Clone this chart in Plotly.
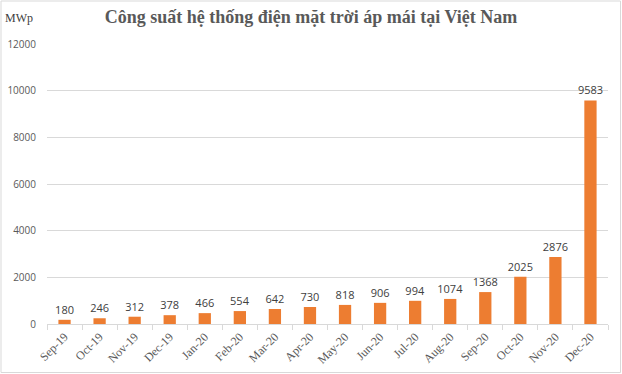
import plotly.graph_objects as go

months = ["Sep-19", "Oct-19", "Nov-19", "Dec-19", "Jan-20", "Feb-20", "Mar-20", "Apr-20",
          "May-20", "Jun-20", "Jul-20", "Aug-20", "Sep-20", "Oct-20", "Nov-20", "Dec-20"]
capacity = [180, 246, 312, 378, 466, 554, 642, 730, 818, 906, 994, 1074, 1368, 2025, 2876, 9583]
y_ticks = [0, 2000, 4000, 6000, 8000, 10000, 12000]

W, H = 622, 374
ml, mr, mt, mb = 47, 14, 44, 50
pw = W - ml - mr
ph = H - mt - mb

fig = go.Figure(go.Bar(
    x=months, y=capacity,
    marker=dict(color="#ED7D31", line=dict(width=0)),
    text=[str(v) for v in capacity], textposition="outside",
    constraintext="none",
    textfont=dict(family="Open Sans, Liberation Sans, sans-serif", size=11, color="#404040"),
    cliponaxis=False,
))

fig.update_layout(
    width=W, height=H,
    margin=dict(l=ml, r=mr, t=mt, b=mb, autoexpand=False),
    paper_bgcolor="white", plot_bgcolor="white",
    bargap=0.65,
    showlegend=False,
    title=dict(text="<b>Công suất hệ thống điện mặt trời áp mái tại Việt Nam</b>",
               x=0.5, xanchor="center", y=1 - 17 / H, yanchor="middle", automargin=False,
               font=dict(family="Liberation Serif, Times New Roman, serif", size=18, color="#595959")),
    xaxis=dict(type="category", tickangle=-45, tickson="boundaries", automargin=False,
               ticks="outside", ticklen=5, tickcolor="#d9d9d9",
               showline=True, linecolor="#d9d9d9", linewidth=1,
               showgrid=False,
               tickfont=dict(family="Liberation Serif, Times New Roman, serif", size=12, color="#595959")),
    yaxis=dict(range=[0, 12000], tickvals=y_ticks, ticktext=[str(v) for v in y_ticks],
               showgrid=True, gridcolor="#d9d9d9", gridwidth=1, zeroline=False, automargin=False,
               ticks="", ticklabelstandoff=10,
               tickfont=dict(family="Open Sans, Liberation Sans, sans-serif", size=10, color="#595959")),
    annotations=[dict(text="MWp", xref="paper", yref="paper",
                      x=-(ml - 3) / pw, y=1 + (mt - 18) / ph, xanchor="left", yanchor="middle",
                      showarrow=False,
                      font=dict(family="Liberation Serif, Times New Roman, serif", size=12, color="#404040"))],
    shapes=[dict(type="rect", xref="paper", yref="paper",
                 x0=-(ml - 1) / pw, x1=1 + (mr - 1.5) / pw,
                 y0=-(mb - 1.5) / ph, y1=1 + (mt - 1) / ph,
                 line=dict(color="#d9d9d9", width=1), fillcolor="rgba(0,0,0,0)")],
)

fig.write_html("out.html", config={"displayModeBar": False},
               post_script="document.body.style.margin='0';document.body.style.overflow='hidden';")
